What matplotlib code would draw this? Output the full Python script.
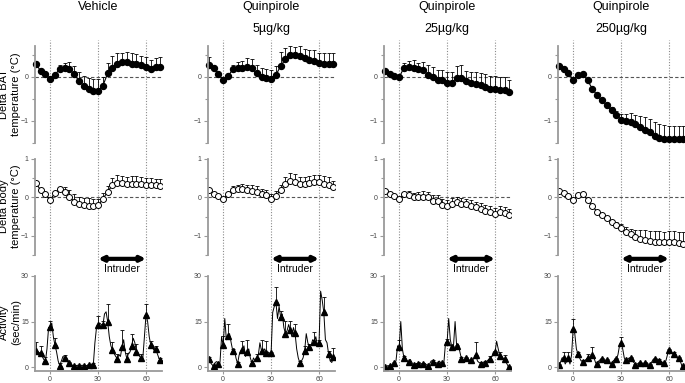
import numpy as np
import matplotlib
matplotlib.use("Agg")
import matplotlib.pyplot as plt

plt.rcParams['font.family'] = ['Liberation Sans', 'DejaVu Sans']

# time points (min) for the temperature curves and the activity markers
time_3min = list(range(-9, 70, 3))
# activity is sampled every minute
time_1min = list(range(-9, 70))

titles = ["Vehicle", "Quinpirole\n5µg/kg", "Quinpirole\n25µg/kg", "Quinpirole\n250µg/kg"]

# delta BAT temperature (°C)
bat_vehicle = [0.29, 0.14, 0.07, -0.05, 0.05, 0.18, 0.19, 0.17, 0.06, -0.09, -0.2, -0.27, -0.31, -0.33,
               -0.2, 0.08, 0.21, 0.3, 0.33, 0.33, 0.3, 0.29, 0.26, 0.23, 0.17, 0.22, 0.22]
bat_q5 = [0.27, 0.2, 0.06, -0.06, 0.01, 0.17, 0.19, 0.2, 0.23, 0.19, 0.08, -0.01, -0.02, -0.05,
          0.04, 0.25, 0.4, 0.49, 0.5, 0.48, 0.42, 0.38, 0.36, 0.32, 0.3, 0.3, 0.3]
bat_q25 = [0.13, 0.07, 0.02, -0.01, 0.21, 0.23, 0.21, 0.17, 0.15, 0.05, 0.0, -0.07, -0.06, -0.13,
           -0.13, -0.02, -0.02, -0.09, -0.14, -0.17, -0.19, -0.23, -0.27, -0.28, -0.3, -0.3, -0.34]
bat_q250 = [0.25, 0.17, 0.08, -0.06, 0.04, 0.06, -0.08, -0.27, -0.42, -0.53, -0.64, -0.76, -0.87, -0.97,
            -1.0, -1.02, -1.08, -1.14, -1.2, -1.25, -1.33, -1.38, -1.4, -1.42, -1.42, -1.42, -1.42]
bat_err_vehicle = [0.04, 0.04, 0.04, 0.04, 0.04, 0.1, 0.13, 0.17, 0.18, 0.2, 0.23, 0.25, 0.26, 0.28,
                   0.2, 0.23, 0.26, 0.23, 0.22, 0.23, 0.23, 0.22, 0.22, 0.22, 0.22, 0.2, 0.22]
bat_err_q5 = [0.17, 0.03, 0.03, 0.03, 0.03, 0.1, 0.14, 0.17, 0.19, 0.21, 0.2, 0.2, 0.2, 0.21,
              0.2, 0.32, 0.25, 0.2, 0.18, 0.21, 0.21, 0.23, 0.25, 0.22, 0.23, 0.24, 0.24]
bat_err_q25 = [0.03, 0.03, 0.03, 0.03, 0.11, 0.14, 0.17, 0.15, 0.19, 0.21, 0.23, 0.22, 0.21, 0.24,
               0.24, 0.26, 0.29, 0.23, 0.26, 0.27, 0.28, 0.29, 0.3, 0.29, 0.3, 0.3, 0.28]
bat_err_q250 = [0.03, 0.03, 0.03, 0.03, 0.05, 0.06, 0.05, 0.05, 0.05, 0.05, 0.05, 0.08, 0.1, 0.13,
                0.15, 0.2, 0.22, 0.25, 0.28, 0.3, 0.3, 0.3, 0.3, 0.3, 0.3, 0.3, 0.3]

# delta body temperature (°C)
body_vehicle = [0.38, 0.19, 0.08, -0.07, 0.12, 0.23, 0.15, 0.02, -0.11, -0.18, -0.21, -0.22, -0.23, -0.21,
                -0.04, 0.15, 0.32, 0.38, 0.37, 0.34, 0.36, 0.36, 0.34, 0.33, 0.32, 0.31, 0.3]
body_q5 = [0.2, 0.1, 0.04, -0.04, 0.09, 0.2, 0.21, 0.23, 0.2, 0.17, 0.15, 0.1, 0.07, -0.03,
           0.04, 0.2, 0.34, 0.43, 0.4, 0.34, 0.34, 0.37, 0.39, 0.39, 0.36, 0.33, 0.26]
body_q25 = [0.17, 0.1, 0.04, -0.03, 0.08, 0.06, 0.02, 0.02, 0.02, 0.0, -0.1, -0.1, -0.2, -0.22,
            -0.17, -0.13, -0.16, -0.18, -0.22, -0.26, -0.3, -0.35, -0.37, -0.42, -0.37, -0.4, -0.46]
body_q250 = [0.17, 0.11, 0.04, -0.06, 0.07, 0.09, -0.07, -0.23, -0.37, -0.45, -0.54, -0.63, -0.71, -0.8,
             -0.89, -0.96, -1.04, -1.09, -1.11, -1.13, -1.15, -1.16, -1.17, -1.17, -1.17, -1.2, -1.21]
body_err_vehicle = [0.04, 0.04, 0.04, 0.04, 0.04, 0.05, 0.12, 0.17, 0.2, 0.2, 0.2, 0.2, 0.2, 0.18,
                    0.15, 0.15, 0.18, 0.2, 0.2, 0.2, 0.2, 0.2, 0.2, 0.18, 0.18, 0.18, 0.18]
body_err_q5 = [0.03, 0.03, 0.03, 0.03, 0.03, 0.1, 0.12, 0.12, 0.12, 0.15, 0.15, 0.12, 0.12, 0.12,
               0.12, 0.12, 0.18, 0.2, 0.2, 0.2, 0.2, 0.2, 0.2, 0.2, 0.2, 0.2, 0.18]
body_err_q25 = [0.03, 0.03, 0.03, 0.03, 0.05, 0.1, 0.1, 0.12, 0.15, 0.15, 0.15, 0.15, 0.15, 0.15,
                0.15, 0.15, 0.15, 0.15, 0.15, 0.15, 0.15, 0.15, 0.15, 0.15, 0.15, 0.15, 0.15]
body_err_q250 = [0.03, 0.03, 0.03, 0.03, 0.03, 0.03, 0.03, 0.03, 0.03, 0.03, 0.03, 0.05, 0.08, 0.1,
                 0.12, 0.15, 0.2, 0.25, 0.25, 0.25, 0.28, 0.28, 0.28, 0.3, 0.3, 0.3, 0.3]

# activity (sec/min), one value per minute
act_vehicle = [5.2, 5.0, 4.8, 4.5, 3.5, 2.5, 1.9, 6, 13, 13.2, 14.5, 10, 7.2, 5, 2, 0.5, 2, 3.5, 3.1, 2.5,
               2, 1.3, 1, 0.5, 0.3, 0.4, 0.6, 0.5, 0.5, 0.6, 0.5, 0.4, 0.5, 0.6, 0.8, 0.8, 0.75, 8, 13, 13.8,
               14.5, 14, 13.8, 17.5, 18.2, 15, 10, 7, 5.6, 4.5, 3.5, 2.8, 4, 3.5, 6.7, 9, 5, 2.7, 4.5, 5,
               7.1, 9.5, 8, 5.1, 4.5, 3.5, 2.9, 3, 10, 17.3, 15, 10, 7.2, 6.5, 5.5, 5.9, 4.5, 3, 2.2]
act_q5 = [2.7, 1.5, 0.8, 0.3, 1.5, 1.8, 1.1, 1.5, 10, 7.2, 16, 9, 10.2, 11, 8, 5.4, 6, 3, 1.1, 4,
          5, 5.7, 7, 3.5, 5.1, 6, 3, 1.4, 3, 2, 2.9, 4, 8, 5.4, 5, 6, 4.6, 5, 4.5, 4.6,
          18, 20, 21.5, 16, 20, 16.4, 17.5, 13, 11, 12, 14, 12.1, 10, 13, 11.1, 6, 3, 1.4, 2, 3,
          5.4, 11, 8, 6.7, 7, 9, 8.4, 10, 7, 7.8, 25, 22, 18, 9, 8, 4.3, 2, 1.5, 3.2]
act_q25 = [0, 0.2, 0.5, 0.3, 0.5, 1, 1.3, 2, 7, 6.5, 15, 6, 3, 2.5, 2, 1.8, 2.5, 1.5, 0.8, 1,
           1.2, 1, 1.5, 1, 1.1, 1.3, 0.8, 0.5, 1, 2, 1.8, 1.2, 1.5, 1.1, 2, 1.5, 1.3, 1.5, 8, 8.3,
           16, 9, 6.5, 7, 15, 6.8, 7.5, 5, 2.7, 2, 1.5, 2.9, 3, 2, 2.2, 2.5, 3, 4.1, 2, 1.5,
           1.1, 1.2, 1.5, 1.4, 2, 2.5, 2.7, 3.5, 5, 4.9, 8.5, 6, 3.8, 3.5, 3, 2.5, 1.5, 0.5, 0]
act_q250 = [0.8, 1.5, 3, 3.1, 1, 2, 2.9, 1, 4, 12.7, 11, 6, 4.3, 3, 2, 1.8, 2, 2.5, 2.9, 2.5,
            3, 4, 3, 1.5, 1.1, 2, 2.5, 2.6, 2.5, 2, 2.2, 1.5, 1.2, 1.1, 2, 2.5, 2.6, 4, 7, 8,
            6, 3, 2.2, 2.5, 3, 2.9, 2, 1.5, 0.8, 1, 1.3, 1.5, 1.2, 1, 1.3, 1.5, 1, 0.8, 1.5, 2.5,
            2.6, 2.5, 2, 2.1, 2, 1.5, 1.5, 2, 4, 5.6, 5, 4.5, 4.3, 3.5, 3, 2.9, 2, 0.5, 0.4]
# SEM of the 3-min activity markers
act_err_vehicle = [2.9, 2.5, 1.3, 2, 2.5, 1, 1, 0.5, 0.3, 0.3, 0.3, 0.3, 0.5, 3,
                   1.3, 5.8, 2.5, 1.5, 5.4, 2, 3.7, 2.5, 1.4, 3.5, 1.4, 0.9, 0.7]
act_err_q5 = [0.5, 0.3, 0.3, 3, 4, 0.5, 0.5, 3, 3.8, 0.5, 1.5, 3.5, 4, 0.5,
              5, 2, 4.3, 3.2, 3, 0.5, 1.5, 1, 3.2, 1, 5, 1, 3]
act_err_q25 = [0.2, 0.2, 0.5, 2.5, 0.5, 0.3, 0.3, 0.3, 0.3, 0.3, 0.5, 0.3, 0.3, 1,
               0.5, 0.5, 0.5, 0.5, 0.5, 4, 0.5, 0.5, 1, 0.5, 1, 1.5, 0.5]
act_err_q250 = [0.3, 2, 2, 3, 0.5, 0.5, 1.5, 2.5, 0.3, 0.3, 0.3, 0.3, 0.3, 2,
                0.5, 0.5, 0.3, 0.3, 0.3, 0.3, 0.5, 0.5, 0.3, 0.5, 0.5, 0.3, 0.3]

bat = [bat_vehicle, bat_q5, bat_q25, bat_q250]
bat_err = [bat_err_vehicle, bat_err_q5, bat_err_q25, bat_err_q250]
body = [body_vehicle, body_q5, body_q25, body_q250]
body_err = [body_err_vehicle, body_err_q5, body_err_q25, body_err_q250]
act = [act_vehicle, act_q5, act_q25, act_q250]
act_err = [act_err_vehicle, act_err_q5, act_err_q25, act_err_q250]

W, H = 685, 383
SPINE = '#9a9a9a'
col_left = [35, 208, 384, 558]   # px
col_w = 127
rows = [(46, 143), (159, 255), (276, 371)]   # px top, bottom
xlim = (-9.5, 70)


def px_box(left, top, width, bottom):
    return [left / W, 1 - bottom / H, width / W, (bottom - top) / H]


def style_axis(ax, bottom=False):
    for s in ['top', 'right']:
        ax.spines[s].set_visible(False)
    ax.spines['left'].set_color(SPINE)
    ax.spines['left'].set_linewidth(1.3)
    ax.spines['bottom'].set_visible(bottom)
    ax.spines['bottom'].set_color(SPINE)
    ax.spines['bottom'].set_linewidth(1.3)
    ax.tick_params(axis='y', which='both', direction='out', color=SPINE, labelsize=5,
                   labelcolor='#444444', width=0.8, pad=1.5)
    ax.tick_params(axis='y', which='major', length=3)
    ax.tick_params(axis='y', which='minor', length=2)
    if bottom:
        ax.tick_params(axis='x', direction='out', color=SPINE, labelsize=5,
                       labelcolor='#444444', length=2.5, width=0.8, pad=0.8)
    else:
        ax.set_xticks([])
    ax.patch.set_visible(False)
    ax.set_xlim(*xlim)


fig = plt.figure(figsize=(W / 100, H / 100), dpi=100)

for c in range(4):
    left = col_left[c]

    # dotted time markers spanning the whole column
    over = fig.add_axes(px_box(left, 40, col_w, 371))
    over.set_xlim(*xlim)
    over.set_ylim(0, 1)
    over.axis('off')
    for t in [0, 30, 60]:
        over.axvline(t, color='#8a8a8a', lw=0.8, ls=(0, (1, 1.5)))

    # BAT temperature
    ax1 = fig.add_axes(px_box(left, rows[0][0], col_w, rows[0][1]))
    style_axis(ax1)
    ax1.set_ylim(-1.5, 0.7)
    ax1.set_yticks([-1, 0])
    ax1.set_yticks([-1.5, -0.5, 0.5], minor=True)
    ax1.axhline(0, color='#555555', lw=0.8, ls=(0, (3, 2)))
    ax1.errorbar(time_3min, bat[c], yerr=[np.zeros(len(bat_err[c])), bat_err[c]], fmt='none',
                 ecolor='black', elinewidth=0.6, capsize=1.5, capthick=0.6, clip_on=False)
    ax1.plot(time_3min, bat[c], color='black', lw=0.8, marker='o', ms=4.3, mfc='black',
             mec='black', clip_on=False)

    # body temperature
    ax2 = fig.add_axes(px_box(left, rows[1][0], col_w, rows[1][1]))
    style_axis(ax2)
    ax2.set_ylim(-1.5, 1)
    ax2.set_yticks([-1, 0, 1])
    ax2.set_yticks([-1.5, -0.5, 0.5], minor=True)
    ax2.axhline(0, color='#555555', lw=0.8, ls=(0, (3, 2)))
    ax2.errorbar(time_3min, body[c], yerr=[np.zeros(len(body_err[c])), body_err[c]], fmt='none',
                 ecolor='black', elinewidth=0.6, capsize=1.5, capthick=0.6)
    ax2.plot(time_3min, body[c], color='black', lw=0.8, marker='o', ms=4.3, mfc='white',
             mec='black', mew=0.7)
    ax2.annotate('', xy=(30, -1.6), xytext=(60, -1.6), annotation_clip=False,
                 arrowprops=dict(arrowstyle='<|-|>', color='black', lw=3,
                                 mutation_scale=7, shrinkA=0, shrinkB=0))
    ax2.text(45, -1.86, 'Intruder', ha='center', va='center', fontsize=7.5, clip_on=False)

    # activity
    ax3 = fig.add_axes(px_box(left, rows[2][0], col_w, rows[2][1]))
    style_axis(ax3, bottom=True)
    ax3.set_ylim(-1.3, 30)
    ax3.set_yticks([0, 15, 30])
    ax3.set_xticks([0, 30, 60])
    ax3.plot(time_1min, act[c], color='black', lw=0.7)
    act_marks = act[c][::3]
    ax3.errorbar(time_3min, act_marks, yerr=[np.zeros(len(act_err[c])), act_err[c]], fmt='none',
                 ecolor='black', elinewidth=0.6, capsize=1.5, capthick=0.6)
    ax3.plot(time_3min, act_marks, ls='none', marker='^', ms=5, color='black')

    # column title
    fig.text((left + (30 - xlim[0]) * col_w / (xlim[1] - xlim[0])) / W, 1 - 1 / H, titles[c],
             ha='center', va='top', fontsize=9, linespacing=2.1)

fig.text(10 / W, 1 - 94 / H, 'Delta BAT\ntemperature (°C)', rotation=90, ha='center', va='center',
         fontsize=8, linespacing=1.2)
fig.text(10 / W, 1 - 206 / H, 'Delta body\ntemperature (°C)', rotation=90, ha='center', va='center',
         fontsize=8, linespacing=1.2)
fig.text(10 / W, 1 - 322 / H, 'Activity\n(sec/min)', rotation=90, ha='center', va='center',
         fontsize=8, linespacing=1.2)

fig.savefig('out.png', dpi=100)
